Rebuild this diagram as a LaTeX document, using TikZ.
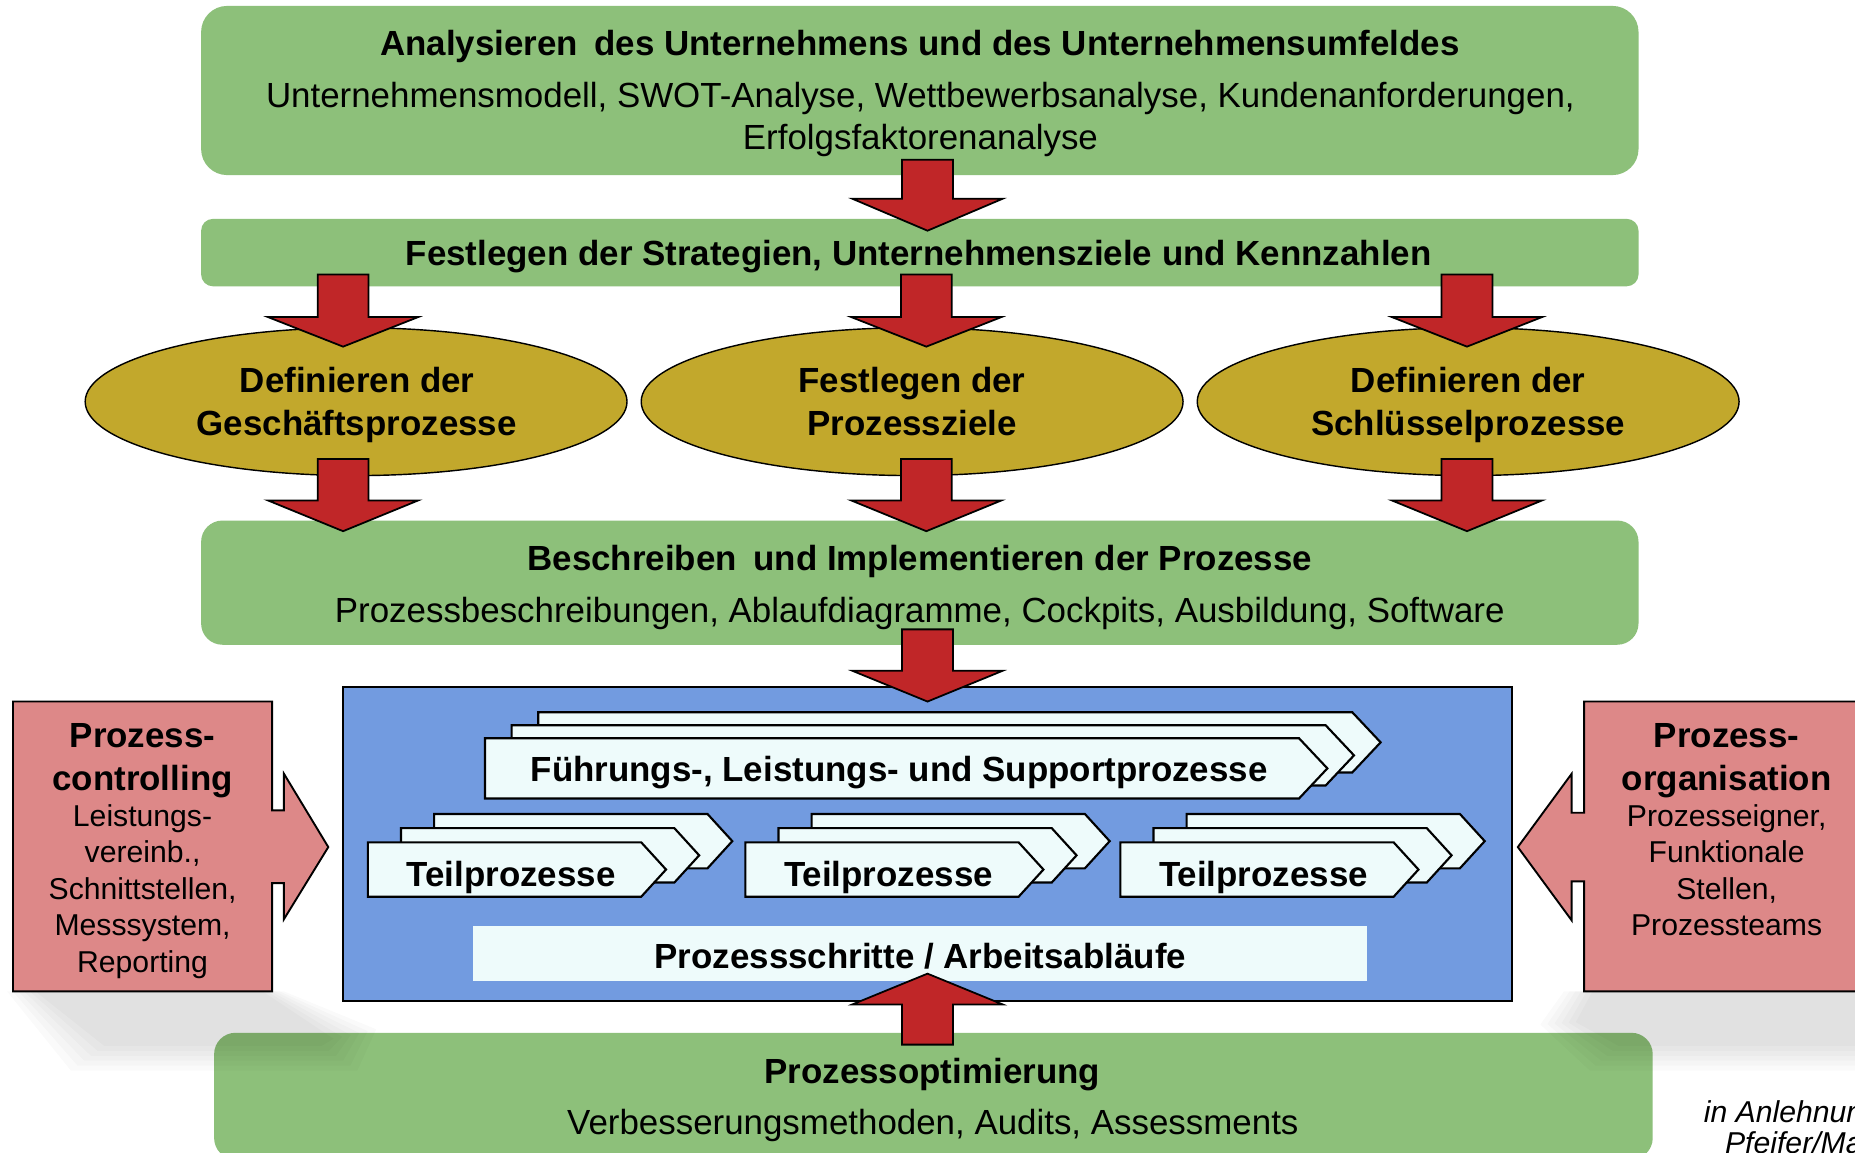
\documentclass[tikz,border=0pt]{standalone}
\usepackage{fontspec}
\setmainfont{Liberation Sans}
\usetikzlibrary{shapes.geometric,calc}
\definecolor{boxgreen}{RGB}{141,192,122}
\definecolor{ellgold}{RGB}{194,168,44}
\definecolor{arrred}{RGB}{192,38,40}
\definecolor{procblue}{RGB}{114,155,224}
\definecolor{palecyan}{RGB}{238,251,251}
\definecolor{pinkbox}{RGB}{221,136,136}
\newcommand\bigbf{\fontsize{29.5}{35.4}\selectfont\bfseries}
\newcommand\bigrm{\fontsize{29.5}{35.4}\selectfont}
\newcommand\smallrm{\fontsize{25.5}{30.6}\selectfont}
\newcommand\smallit{\fontsize{25.5}{30.6}\selectfont\itshape}
% block arrow pointing down: cx, y shaft top, y head base, y tip
\newcommand\blockdown[4]{%
  \draw[redarrow] (#1-21.5,#2) -- (#1+21.5,#2) -- (#1+21.5,#3) -- (#1+63.5,#3)
    -- (#1,#4) -- (#1-63.5,#3) -- (#1-21.5,#3) -- cycle;}
% chevron: left, top, body width, height, tip depth
\newcommand\chevron[5]{%
  \draw[chevbox] (#1,#2) -- (#1+#3,#2) -- (#1+#3+#5,#2+#4/2) -- (#1+#3,#2+#4)
    -- (#1,#2+#4) -- cycle;}
\tikzset{
  greenbox/.style={draw=none, fill=boxgreen, inner sep=0pt},
  goldell/.style={ellipse, draw=black, line width=1.2pt, fill=ellgold, inner sep=0pt,
    minimum width=458pt, minimum height=125pt},
  redarrow/.style={draw=black, line width=1.5pt, fill=arrred, line join=miter},
  chevbox/.style={draw=black, line width=1.8pt, fill=palecyan, line join=miter},
  pinkshape/.style={draw=black, line width=1.6pt, fill=pinkbox, line join=miter},
  shadowpart/.style={fill=black, fill opacity=0.02, draw=none},
  txt/.style={anchor=base, inner sep=0pt, text=black},
}
\begin{document}
\begin{tikzpicture}[x=1pt, y=-1pt]
\useasboundingbox (0,0) rectangle (1568,974);
\clip (0,0) rectangle (1568,974);
\fill[white] (0,0) rectangle (1568,974);

% bottom green box (drawn first: shadows fall on it)
\node[greenbox, minimum width=1216pt, minimum height=107pt, rounded corners=18pt] (b5) at (789,926.5) {};

% soft shadows of the pink boxes (nested layers)
\coordinate (la1) at (6,838);    \coordinate (la2) at (30,838);
\coordinate (lb1) at (240,838);  \coordinate (lb2) at (222,838);
\coordinate (lc1) at (318,870);  \coordinate (lc2) at (282,878);
\coordinate (ld1) at (302,905);  \coordinate (ld2) at (272,884);
\coordinate (le1) at (60,905);   \coordinate (le2) at (88,884);
\coordinate (ra1) at (1322,838); \coordinate (ra2) at (1346,838);
\coordinate (rb1) at (1568,838); \coordinate (rb2) at (1568,838);
\coordinate (rc1) at (1568,905); \coordinate (rc2) at (1568,884);
\coordinate (rd1) at (1344,905); \coordinate (rd2) at (1368,884);
\coordinate (re1) at (1302,866); \coordinate (re2) at (1332,864);
\foreach \t in {0,0.2,0.4,0.6,0.8,1}{
  \fill[shadowpart] ($(la1)!\t!(la2)$) -- ($(lb1)!\t!(lb2)$) -- ($(lc1)!\t!(lc2)$)
    -- ($(ld1)!\t!(ld2)$) -- ($(le1)!\t!(le2)$) -- cycle;
  \fill[shadowpart] ($(ra1)!\t!(ra2)$) -- ($(rb1)!\t!(rb2)$) -- ($(rc1)!\t!(rc2)$)
    -- ($(rd1)!\t!(rd2)$) -- ($(re1)!\t!(re2)$) -- cycle;
}

% green boxes
\node[greenbox, minimum width=1215pt, minimum height=143pt, rounded corners=22pt] (b1) at (777.5,76.5) {};
\node[greenbox, minimum width=1215pt, minimum height=57pt, rounded corners=10pt] (b2) at (777.5,213.5) {};
\node[greenbox, minimum width=1215pt, minimum height=105pt, rounded corners=18pt] (b3) at (777.5,492.5) {};

% ellipses
\node[goldell] (e1) at (301,339.5) {};
\node[goldell] (e2) at (771,339.5) {};
\node[goldell] (e3) at (1241,339.5) {};

% texts of the upper part
\node[txt] (t1a) at (777.5,47) {\bigbf Analysieren\hspace{0.2em} des Unternehmens und des Unternehmensumfeldes};
\node[txt] (t1b) at (778,91) {\bigrm Unternehmensmodell, SWOT-Analyse, Wettbewerbsanalyse, Kundenanforderungen,};
\node[txt] (t1c) at (778,126) {\bigrm Erfolgsfaktorenanalyse};
\node[txt] (t2) at (776.5,224) {\bigbf Festlegen der Strategien, Unternehmensziele und Kennzahlen};
\node[txt] (e1a) at (302,332) {\bigbf Definieren der};
\node[txt] (e1b) at (301.5,368) {\bigbf Geschäftsprozesse};
\node[txt] (e2a) at (771,332) {\bigbf Festlegen der};
\node[txt] (e2b) at (771,368) {\bigbf Prozessziele};
\node[txt] (e3a) at (1241,332) {\bigbf Definieren der};
\node[txt] (e3b) at (1241,368) {\bigbf Schlüsselprozesse};
\node[txt] (t3a) at (777.5,482) {\bigbf Beschreiben\hspace{0.2em} und Implementieren der Prozesse};
\node[txt] (t3b) at (777.5,526) {\bigrm Prozessbeschreibungen, Ablaufdiagramme, Cockpits, Ausbildung, Software};

% blue process box
\node[draw=black, line width=1.6pt, fill=procblue, minimum width=988pt, minimum height=265pt, inner sep=0pt] (blue) at (784,713.5) {};

% Fuehrungs stack
\chevron{455}{602}{688}{51}{24}
\chevron{432.5}{613}{688}{51}{24}
\chevron{410}{624}{688}{51}{24}
\node[txt] (tf) at (760,661) {\bigbf Führungs-, Leistungs- und Supportprozesse};

% Teilprozesse stacks
\foreach \L [count=\i] in {311,630,947}{
  \chevron{\L+56}{688}{231}{46}{21}
  \chevron{\L+28}{700}{231}{46}{21}
  \chevron{\L}{712}{231}{46}{21}
  \node[txt] (tt\i) at (\L+121,749) {\bigbf Teilprozesse};
}

% Prozessschritte box
\node[fill=palecyan, draw=none, minimum width=755.5pt, minimum height=46pt, inner sep=0pt] (ps) at (777.75,806) {};
\node[txt] (tps) at (778,819) {\bigbf Prozessschritte / Arbeitsabläufe};

% bottom box texts
\node[txt] (t5a) at (788,916) {\bigbf Prozessoptimierung};
\node[txt] (t5b) at (788.5,959) {\bigrm Verbesserungsmethoden, Audits, Assessments};

% pink boxes with block arrows
\draw[pinkshape] (11,593) -- (230,593) -- (230,685) -- (240,685) -- (240,654) -- (277.5,716)
  -- (240,777) -- (240,746.5) -- (230,746.5) -- (230,838) -- (11,838) -- cycle;
\draw[pinkshape] (1339,593) -- (1610,593) -- (1610,838) -- (1339,838) -- (1339,745)
  -- (1328.5,745) -- (1328.5,778) -- (1283,716) -- (1328.5,654) -- (1328.5,687)
  -- (1339,687) -- cycle;
\node[txt] (pl1) at (120.5,632) {\bigbf Prozess-};
\node[txt] (pl2) at (120.5,668) {\bigbf controlling};
\node[txt] (pl3) at (120.5,699) {\smallrm Leistungs-};
\node[txt] (pl4) at (120.5,729) {\smallrm vereinb.,};
\node[txt] (pl5) at (120.5,760) {\smallrm Schnittstellen,};
\node[txt] (pl6) at (120.5,791) {\smallrm Messsystem,};
\node[txt] (pl7) at (120.5,822) {\smallrm Reporting};
\node[txt] (pr1) at (1459.5,632) {\bigbf Prozess-};
\node[txt] (pr2) at (1459.5,668) {\bigbf organisation};
\node[txt] (pr3) at (1459.5,699) {\smallrm Prozesseigner,};
\node[txt] (pr4) at (1459.5,729) {\smallrm Funktionale};
\node[txt] (pr5) at (1459.5,760) {\smallrm Stellen,};
\node[txt] (pr6) at (1459.5,791) {\smallrm Prozessteams};

% source note (cut off at the page edge, as in the reference)
\node[txt, anchor=base west] (src1) at (1440,949) {\smallit in Anlehnung an};
\node[txt, anchor=base west] (src2) at (1458,975) {\smallit Pfeifer/Masing};

% red block arrows
\blockdown{784}{135}{168}{195}
\blockdown{290}{232}{268}{293}
\blockdown{783}{232}{268}{293}
\blockdown{1240}{232}{268}{293}
\blockdown{290}{388}{423}{449}
\blockdown{783}{388}{423}{449}
\blockdown{1240}{388}{423}{449}
\blockdown{784}{532}{567}{593}
% upward arrow from Prozessoptimierung
\draw[redarrow] (784-21.5,883) -- (784+21.5,883) -- (784+21.5,849) -- (784+63.5,849)
  -- (784,823) -- (784-63.5,849) -- (784-21.5,849) -- cycle;
\end{tikzpicture}
\end{document}
